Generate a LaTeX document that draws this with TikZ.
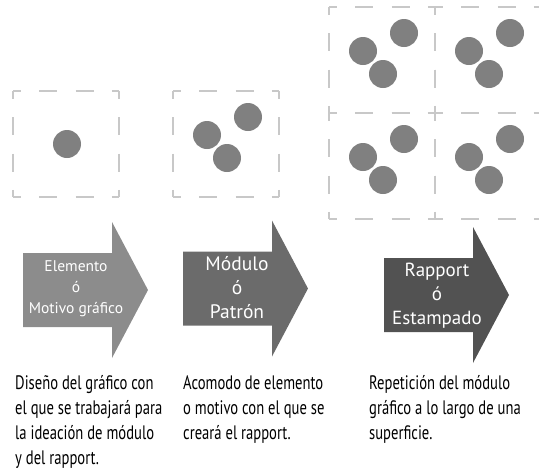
\documentclass[tikz,border=0pt]{standalone}
\usepackage{fontspec}
\setmainfont{PT Sans}
\newfontfamily\narrowfont[FakeStretch=0.75]{PT Sans}
\definecolor{boxgray}{HTML}{C8C8C8}
\definecolor{dotgray}{HTML}{808080}
\definecolor{arrowa}{HTML}{8C8C8C}
\definecolor{arrowb}{HTML}{6B6B6B}
\definecolor{arrowc}{HTML}{525252}
\tikzset{
  cellside/.style={boxgray, line width=1.3pt, dash pattern=on 18pt off 18.3pt, dash phase=10pt},
  dot/.style={fill=dotgray},
  arrowtext/.style={white, align=center, inner sep=0pt},
  notetext/.style={anchor=north west, align=left, inner sep=0pt, text=black,
    font=\narrowfont\fontsize{19.5}{25}\selectfont}
}
\begin{document}
\begin{tikzpicture}[x=1pt,y=-1pt]
	\useasboundingbox (0,0) rectangle (539,472);
	% cuadros punteados
	\foreach \cx/\cy in {13/91,173/91,329/7,435/7,329/113,435/113}
	  {
	      \draw[cellside] (\cx,\cy) -- (\cx+106,\cy);
	      \draw[cellside] (\cx,\cy+106) -- (\cx+106,\cy+106);
	      \draw[cellside] (\cx,\cy) -- (\cx,\cy+106);
	      \draw[cellside] (\cx+106,\cy) -- (\cx+106,\cy+106);
	  }
	\fill[dot] (67,144) circle[radius=14pt];
	\foreach \cx/\cy in {173/91,329/7,435/7,329/113,435/113}
	  {
	      \fill[dot] (\cx+34,\cy+44) circle[radius=14pt];
	      \fill[dot] (\cx+75,\cy+26) circle[radius=14pt];
	      \fill[dot] (\cx+54,\cy+67) circle[radius=14pt];
	  }
	% flechas
	\foreach \ax/\ay/\col in {23/290/arrowa,183/288.5/arrowb,384/295/arrowc}
	  \fill[\col] (\ax,\ay-37) -- (\ax+89,\ay-37) -- (\ax+89,\ay-68) -- (\ax+125,\ay)
	    -- (\ax+89,\ay+68) -- (\ax+89,\ay+37) -- (\ax,\ay+37) -- cycle;
	\node[arrowtext, font=\fontsize{15.5}{21}\selectfont] (elemento) at (76,289) {Elemento\\ó\\Motivo gráfico};
	\node[arrowtext, font=\fontsize{19.5}{24}\selectfont] (modulo) at (237,288) {Módulo\\ó\\Patrón};
	\node[arrowtext, font=\fontsize{19}{24}\selectfont] (rapport) at (437,296) {Rapport\\ó\\Estampado};
	% textos
	\node[notetext] (diseno) at (15,375) {Diseño del gráfico con\\el que se trabajará para\\la ideación de módulo\\y del rapport.};
	\node[notetext] (acomodo) at (183,375) {Acomodo de elemento\\o motivo con el que se\\creará el rapport.};
	\node[notetext] (repeticion) at (369,375) {Repetición del módulo\\gráfico a lo largo de una\\superficie.};
\end{tikzpicture}
\end{document}
